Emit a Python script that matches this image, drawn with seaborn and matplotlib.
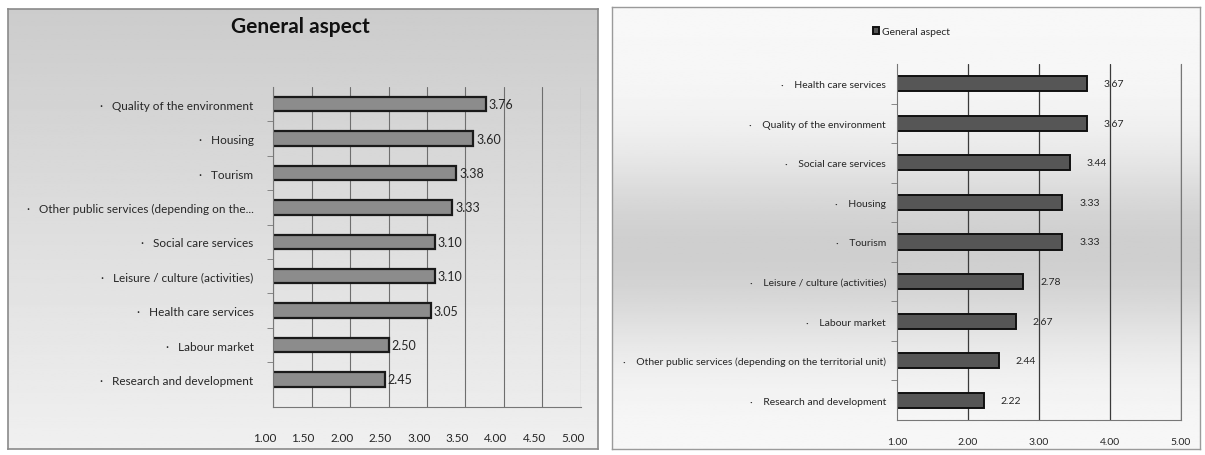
"""
# General aspect - two horizontal bar panels
#"""
import numpy as np
import pandas as pd
import seaborn as sns
import matplotlib.pyplot as plt
from matplotlib.transforms import ScaledTranslation

# left panel data
left_cats = ['Quality of the environment', 'Housing', 'Tourism',
             'Other public services (depending on the...',
             'Social care services', 'Leisure / culture (activities)',
             'Health care services', 'Labour market',
             'Research and development']
left_vals = [3.76, 3.60, 3.38, 3.33, 3.10, 3.10, 3.05, 2.50, 2.45]

# right panel data
right_cats = ['Health care services', 'Quality of the environment',
              'Social care services', 'Housing', 'Tourism',
              'Leisure / culture (activities)', 'Labour market',
              'Other public services (depending on the territorial unit)',
              'Research and development']
right_vals = [3.67, 3.67, 3.44, 3.33, 3.33, 2.78, 2.67, 2.44, 2.22]

left_ticks = [1.0, 1.5, 2.0, 2.5, 3.0, 3.5, 4.0, 4.5, 5.0]
right_ticks = [1.0, 2.0, 3.0, 4.0, 5.0]

sns.set_style('white')
plt.rcParams['font.family'] = ['Lato', 'DejaVu Sans']

fig = plt.figure(figsize=(12.05, 4.56), dpi=100)

# --- panel backgrounds (gradients) ---
bg_l = fig.add_axes([8/1205, 1-450/456, 590/1205, 440/456], zorder=0)
grad_l = np.linspace(0.80, 0.94, 200).reshape(-1, 1)
bg_l.imshow(grad_l, aspect='auto', cmap='gray', vmin=0, vmax=1,
            extent=[0, 1, 0, 1], origin='upper')
bg_l.set_xticks([]); bg_l.set_yticks([])
for s in bg_l.spines.values():
    s.set_color('#8a8a8a'); s.set_linewidth(1.2)

bg_r = fig.add_axes([612/1205, 1-450/456, 588/1205, 442/456], zorder=0)
yy = np.linspace(0, 1, 200)
grad_r = 0.97 - 0.16*np.exp(-((yy - 0.55)/0.22)**2)
bg_r.imshow(grad_r.reshape(-1, 1), aspect='auto', cmap='gray', vmin=0, vmax=1,
            extent=[0, 1, 0, 1], origin='upper')
bg_r.set_xticks([]); bg_r.set_yticks([])
for s in bg_r.spines.values():
    s.set_color('#9a9a9a'); s.set_linewidth(1.0)

# --- left chart ---
df_l = pd.DataFrame({'cat': ['·   ' + c for c in left_cats], 'val': left_vals})
ax1 = fig.add_axes([273/1205, 1-408/456, 308/1205, 320/456], zorder=2)
ax1.patch.set_alpha(0)
sns.barplot(data=df_l, x='val', y='cat', orient='h', ax=ax1, color='#8c8c8c',
            edgecolor='#1a1a1a', linewidth=1.6, width=0.42)
ax1.set_xlim(1, 5)
ax1.set_ylim(8.8, -0.5)
ax1.set_xticks(left_ticks)
ax1.set_xticklabels([f'{t:.2f}' for t in left_ticks], fontsize=8.5)
ax1.tick_params(axis='x', pad=18, length=0)
ax1.tick_params(axis='y', length=0, pad=14, labelsize=8.5)
ax1.set_yticks(np.arange(0.5, 8.5, 1), minor=True)
ax1.tick_params(axis='y', which='minor', length=4, color='#777777', left=True)
ax1.set_xlabel(''); ax1.set_ylabel('')
for t in left_ticks:
    ax1.axvline(t, color='#6e6e6e', lw=0.8, zorder=0)
for s in ['top', 'right']:
    ax1.spines[s].set_visible(False)
ax1.spines['left'].set_color('#777777')
ax1.spines['bottom'].set_color('#777777')
ax1.bar_label(ax1.containers[0], fmt='%.2f', padding=2, fontsize=9)
# 3D look: tick labels sit a bit left of their gridlines
shift = ScaledTranslation(-6/72, 0, fig.dpi_scale_trans)
for lbl in ax1.get_xticklabels():
    lbl.set_transform(lbl.get_transform() + shift)
fig.text(300/1205, 1-27/456, 'General aspect', ha='center', va='center',
         fontsize=15, fontweight='bold', color='#111111')

# --- right chart ---
df_r = pd.DataFrame({'cat': ['·    ' + c for c in right_cats], 'val': right_vals})
ax2 = fig.add_axes([897/1205, 1-421/456, 284/1205, 356/456], zorder=2)
ax2.patch.set_alpha(0)
sns.barplot(data=df_r, x='val', y='cat', orient='h', ax=ax2, color='#565656',
            edgecolor='#111111', linewidth=1.4, width=0.38,
            label='General aspect')
ax2.set_xlim(1, 5)
ax2.set_ylim(8.5, -0.5)
ax2.set_xticks(right_ticks)
ax2.set_xticklabels([f'{t:.2f}' for t in right_ticks], fontsize=7.5)
ax2.tick_params(axis='x', pad=12, length=0)
ax2.tick_params(axis='y', length=0, pad=8, labelsize=7.5)
ax2.set_yticks(np.arange(0.5, 8.5, 1), minor=True)
ax2.tick_params(axis='y', which='minor', length=4, color='#777777', left=True)
ax2.set_xlabel(''); ax2.set_ylabel('')
for t in right_ticks[1:]:
    ax2.axvline(t, color='#3a3a3a', lw=0.9, zorder=0)
ax2.spines['top'].set_visible(False)
for s in ['left', 'bottom', 'right']:
    ax2.spines[s].set_color('#777777')
ax2.bar_label(ax2.containers[0], fmt='%.2f', padding=12, fontsize=7.5)
ax2.legend(loc='center', bbox_to_anchor=(0.05, 1.09), frameon=False,
           fontsize=7.5, handlelength=0.6, handleheight=0.6, handletextpad=0.3)

fig.savefig('out.png', dpi=100)
